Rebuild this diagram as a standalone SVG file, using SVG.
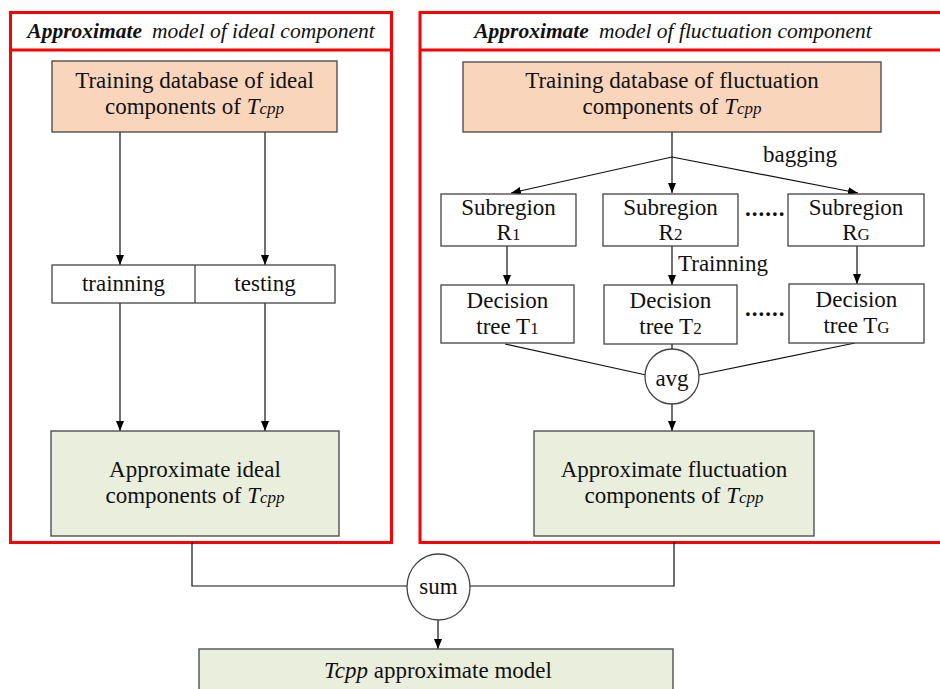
<svg xmlns="http://www.w3.org/2000/svg" width="940" height="689" viewBox="0 0 940 689">
<style>
text{font-family:"Liberation Serif","Times New Roman",serif;fill:#111;}
.t{font-size:23px;text-anchor:middle;}
.s{font-size:23px;text-anchor:middle;}
.h{font-size:21.5px;font-style:italic;text-anchor:middle;}
.frame{fill:none;stroke:#f00;stroke-width:3;}
.box{stroke:#444;stroke-width:1.3;}
.org{fill:#f9d6bb;}
.grn{fill:#e9eedd;}
.wht{fill:#fff;}
.ln{fill:none;stroke:#111;stroke-width:1.2;}
.ar{fill:none;stroke:#111;stroke-width:1.2;marker-end:url(#ah);}
.sub{font-size:17px;}
.dots{font-size:23px;letter-spacing:1px;font-weight:bold;}
</style>
<defs>
<marker id="ah" viewBox="0 0 10 10" refX="10" refY="5" markerWidth="10" markerHeight="10" markerUnits="userSpaceOnUse" orient="auto">
<path d="M0,1 L10,5 L0,9 Z" fill="#000"/>
</marker>
</defs>
<rect width="940" height="689" fill="#fff"/>

<g id="frame-ideal">
<rect class="frame" x="10.5" y="12.5" width="381" height="530"/>
<line x1="10.5" y1="50" x2="391.5" y2="50" stroke="#f00" stroke-width="3"/>
<text class="h" x="201" y="38"><tspan font-weight="bold">Approximate</tspan><tspan dx="10">model of ideal component</tspan></text>
</g>
<g id="frame-fluct">
<rect class="frame" x="420" y="12.5" width="530" height="530"/>
<line x1="420" y1="50" x2="950" y2="50" stroke="#f00" stroke-width="3"/>
<text class="h" x="673" y="38"><tspan font-weight="bold">Approximate</tspan><tspan dx="10">model of fluctuation component</tspan></text>
</g>

<g id="connectors">
<line class="ar" x1="120" y1="132" x2="120" y2="265"/>
<line class="ar" x1="265" y1="132" x2="265" y2="265"/>
<line class="ar" x1="120" y1="303" x2="120" y2="431"/>
<line class="ar" x1="265" y1="303" x2="265" y2="431"/>
<line class="ln" x1="672" y1="132" x2="672" y2="157"/>
<line class="ar" x1="672" y1="157" x2="511" y2="193"/>
<line class="ar" x1="672" y1="157" x2="672" y2="193"/>
<line class="ar" x1="672" y1="157" x2="858" y2="193"/>
<line class="ar" x1="507" y1="246" x2="507" y2="285"/>
<line class="ar" x1="672" y1="246" x2="672" y2="285"/>
<line class="ar" x1="857" y1="246" x2="857" y2="284"/>
<line class="ln" x1="505" y1="344" x2="646" y2="375"/>
<line class="ln" x1="855" y1="343" x2="699" y2="375"/>
<line class="ln" x1="672" y1="344" x2="672" y2="349"/>
<line class="ar" x1="672" y1="404" x2="672" y2="431"/>
<polyline class="ln" points="192,542 192,586 407,586"/>
<polyline class="ln" points="674,542 674,586 469,586"/>
<line class="ar" x1="438" y1="620" x2="438" y2="649"/>
<text x="763" y="162" font-size="23">bagging</text>
<text x="678" y="271" font-size="23">Trainning</text>
<text class="dots" x="745" y="216">......</text>
<text class="dots" x="745" y="316">......</text>
</g>

<g id="db-ideal">
<rect class="box org" x="52" y="61" width="285" height="71"/>
<text class="t" x="194.5" y="88">Training database of ideal</text>
<text class="t" x="194.5" y="114">components of <tspan font-style="italic">T</tspan><tspan class="sub" font-style="italic">cpp</tspan></text>
</g>
<g id="split-ideal">
<rect class="box wht" x="52" y="265" width="283" height="38"/>
<line class="box" x1="195" y1="265" x2="195" y2="303"/>
<text class="s" x="123.5" y="291">trainning</text>
<text class="s" x="265" y="291">testing</text>
</g>
<g id="approx-ideal">
<rect class="box grn" x="51" y="431" width="288" height="105"/>
<text class="t" x="195" y="477">Approximate ideal</text>
<text class="t" x="195" y="503">components of <tspan font-style="italic">T</tspan><tspan class="sub" font-style="italic">cpp</tspan></text>
</g>

<g id="db-fluct">
<rect class="box org" x="463" y="62" width="418" height="70"/>
<text class="t" x="672" y="88">Training database of fluctuation</text>
<text class="t" x="672" y="114">components of <tspan font-style="italic">T</tspan><tspan class="sub" font-style="italic">cpp</tspan></text>
</g>
<g id="sub-r1">
<rect class="box wht" x="441" y="194" width="135" height="52"/>
<text class="s" x="508.5" y="215">Subregion</text>
<text class="s" x="508.5" y="240">R<tspan class="sub">1</tspan></text>
</g>
<g id="sub-r2">
<rect class="box wht" x="603" y="194" width="135" height="52"/>
<text class="s" x="670.5" y="215">Subregion</text>
<text class="s" x="670.5" y="240">R<tspan class="sub">2</tspan></text>
</g>
<g id="sub-rg">
<rect class="box wht" x="788" y="194" width="136" height="52"/>
<text class="s" x="856" y="215">Subregion</text>
<text class="s" x="856" y="240">R<tspan class="sub">G</tspan></text>
</g>
<g id="tree-t1">
<rect class="box wht" x="441" y="285" width="133" height="58"/>
<text class="s" x="507.5" y="308">Decision</text>
<text class="s" x="507.5" y="334">tree T<tspan class="sub">1</tspan></text>
</g>
<g id="tree-t2">
<rect class="box wht" x="604" y="285" width="133" height="59"/>
<text class="s" x="670.5" y="308">Decision</text>
<text class="s" x="670.5" y="334">tree T<tspan class="sub">2</tspan></text>
</g>
<g id="tree-tg">
<rect class="box wht" x="789" y="284" width="135" height="59"/>
<text class="s" x="856.5" y="307">Decision</text>
<text class="s" x="856.5" y="333">tree T<tspan class="sub">G</tspan></text>
</g>
<g id="avg">
<ellipse class="box wht" cx="672" cy="376.5" rx="27" ry="27.5"/>
<text class="s" x="672" y="386">avg</text>
</g>
<g id="approx-fluct">
<rect class="box grn" x="534" y="431" width="280" height="105"/>
<text class="t" x="674" y="477">Approximate fluctuation</text>
<text class="t" x="674" y="503">components of <tspan font-style="italic">T</tspan><tspan class="sub" font-style="italic">cpp</tspan></text>
</g>

<g id="sum">
<ellipse class="box wht" cx="438.5" cy="587" rx="31.5" ry="33"/>
<text class="s" x="438.5" y="594">sum</text>
</g>
<g id="model">
<rect class="box grn" x="199" y="649" width="474" height="60"/>
<text class="s" x="438" y="678"><tspan font-style="italic">Tcpp</tspan> approximate model</text>
</g>
</svg>
